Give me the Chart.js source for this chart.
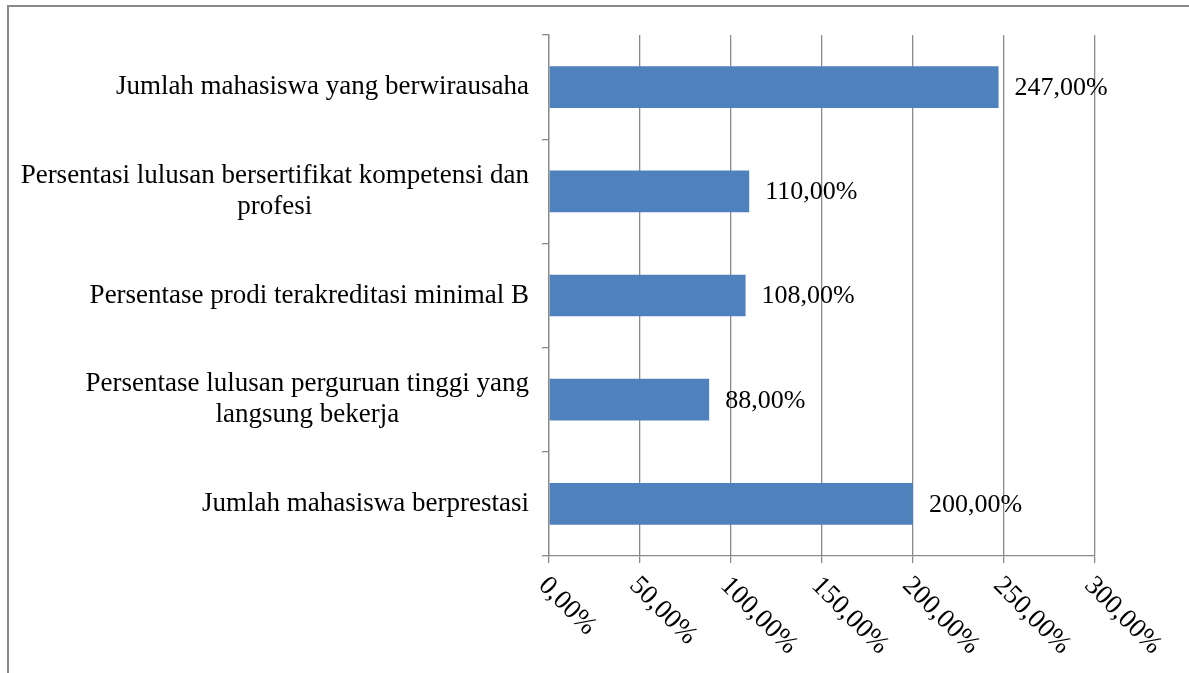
<!DOCTYPE html>
<html lang="id">
<head>
    <meta charset="UTF-8">
    <title>Capaian Kinerja</title>
    <script src="https://cdn.jsdelivr.net/npm/chart.js"></script>
    <style>
        body { margin: 0; background: white; }
        .frame {
            position: absolute; left: 7px; top: 5px; width: 1300px; height: 800px;
            border-left: 2px solid #888; border-top: 2px solid #888;
        }
        canvas { position: absolute; left: 0; top: 0; }
    </style>
</head>
<body>
    <div class="frame"></div>
    <canvas id="grafik" width="1189" height="673"></canvas>
<script>
    // data dari gambar
    const kategori = [
        'Jumlah mahasiswa yang berwirausaha',
        ['Persentasi lulusan bersertifikat kompetensi dan', 'profesi'],
        'Persentase prodi terakreditasi minimal B',
        ['Persentase lulusan perguruan tinggi yang', 'langsung bekerja'],
        'Jumlah mahasiswa berprestasi'
    ];
    const capaian = [247, 110, 108, 88, 200];
    const tickX = [0, 50, 100, 150, 200, 250, 300];

    const SERIF = '"Liberation Serif", "Times New Roman", serif';
    const persen = v => v.toFixed(2).replace('.', ',') + '%';

    // label kategori, nilai dan sumbu x digambar sendiri
    const labelPlugin = {
        id: 'labelManual',
        afterDraw(chart) {
            const ctx = chart.ctx;
            const sx = chart.scales.x;
            const sy = chart.scales.y;
            ctx.save();
            ctx.fillStyle = '#000';

            // kategori di kiri
            ctx.font = '27px ' + SERIF;
            ctx.textAlign = 'center';
            ctx.textBaseline = 'middle';
            kategori.forEach((lab, i) => {
                const lines = Array.isArray(lab) ? lab : [lab];
                const cy = sy.getPixelForTick(i);
                const widest = Math.max(...lines.map(l => ctx.measureText(l).width));
                const cx = sy.right - 20 - widest / 2;
                lines.forEach((l, j) => {
                    ctx.fillText(l, cx, cy + (j - (lines.length - 1) / 2) * 31);
                });
            });

            // nilai di ujung batang
            ctx.font = '26px ' + SERIF;
            ctx.textAlign = 'left';
            const meta = chart.getDatasetMeta(0);
            meta.data.forEach((bar, i) => {
                ctx.fillText(persen(capaian[i]), bar.x + 16, bar.y + 1);
            });

            // label sumbu x miring
            ctx.font = '27px ' + SERIF;
            ctx.textBaseline = 'top';
            tickX.forEach(v => {
                const px = sx.getPixelForValue(v);
                ctx.save();
                ctx.translate(px + 3, sx.top + 16);
                ctx.rotate(Math.PI / 4);
                ctx.fillText(persen(v), 0, 0);
                ctx.restore();
            });
            ctx.restore();
        }
    };

    new Chart(document.getElementById('grafik'), {
        type: 'bar',
        data: {
            labels: kategori,
            datasets: [{
                data: capaian,
                backgroundColor: '#4F81BD',
                borderWidth: 0,
                barPercentage: 0.8,
                categoryPercentage: 0.5
            }]
        },
        options: {
            indexAxis: 'y',
            responsive: false,
            animation: false,
            layout: { padding: { top: 35, right: 94, left: 0, bottom: 0 } },
            plugins: { legend: { display: false }, tooltip: { enabled: false } },
            scales: {
                x: {
                    min: 0, max: 300,
                    afterBuildTicks: s => { s.ticks = tickX.map(v => ({ value: v })); },
                    ticks: { display: false },
                    grid: { color: '#8a8a8a', lineWidth: 1.3, tickLength: 7 },
                    border: { color: '#8a8a8a', width: 1.3 },
                    afterFit: s => { s.height = 117; }
                },
                y: {
                    ticks: { display: false },
                    grid: { drawOnChartArea: false, color: '#8a8a8a', lineWidth: 1.3, tickLength: 7 },
                    border: { color: '#8a8a8a', width: 1.3 },
                    afterFit: s => { s.width = 549; }
                }
            }
        },
        plugins: [labelPlugin]
    });
</script>
</body>
</html>
